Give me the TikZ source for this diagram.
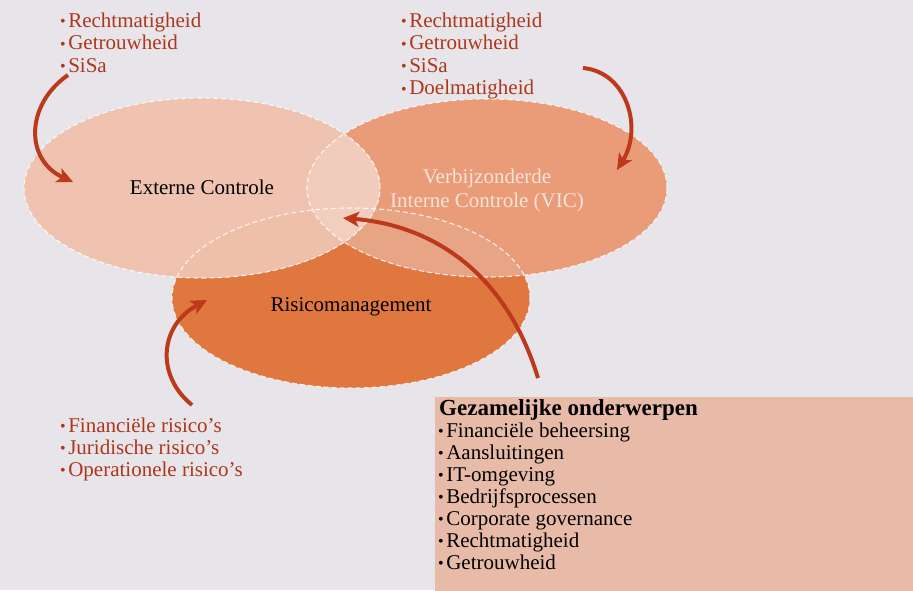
\documentclass[tikz,border=0pt]{standalone}
\usepackage{fontspec}
\setmainfont{Liberation Serif}
\usetikzlibrary{shapes.geometric, arrows.meta, calc}

\definecolor{bgcol}{HTML}{E7E5EA}
\definecolor{ecfill}{HTML}{EFC3AF}
\definecolor{vicfill}{HTML}{EA9C78}
\definecolor{risfill}{HTML}{E0773F}
\definecolor{ecvic}{HTML}{F1CCBC}
\definecolor{ecris}{HTML}{EFC0A9}
\definecolor{vicris}{HTML}{E8A585}
\definecolor{allthree}{HTML}{F2CEBF}
\definecolor{boxfill}{HTML}{E8BBA9}
\definecolor{listred}{HTML}{AE361B}
\definecolor{arrowred}{HTML}{BC391B}
\definecolor{victext}{HTML}{F6E4DA}

\newcommand{\itm}{\raisebox{0.5pt}{\fontsize{16}{16}\selectfont\textbullet}\hspace{2.5pt}}

\tikzset{
    lbl/.style={inner sep=0pt, font=\fontsize{21}{24}\selectfont},
    itemred/.style={lbl, anchor=base west, text=listred},
    itemblack/.style={lbl, anchor=base west, text=black},
    setshape/.style={ellipse, draw=white, draw opacity=0.8, dash pattern=on 5pt off 3pt, line width=1.1pt, inner sep=0pt},
    flow/.style={->, line width=4pt, draw=arrowred},
}

\begin{document}
\begin{tikzpicture}[x=1pt, y=-1pt, >={Stealth[length=16pt, width=15pt, inset=4pt]}]

        % ====================
        % 0. Background
        % ====================
        \fill[bgcol] (0,0) rectangle (913,590);
        \useasboundingbox (0,0) rectangle (913,590);

        % ====================
        % 1. The three sets
        % ====================
        \fill[risfill] (351,298) ellipse [x radius=179pt, y radius=90pt];
        \fill[vicfill] (487,188) ellipse [x radius=180pt, y radius=89pt];
        \fill[ecfill]  (202,188) ellipse [x radius=178pt, y radius=90pt];

        % overlaps with Risicomanagement
        \begin{scope}
            \clip (351,298) ellipse [x radius=179pt, y radius=90pt];
            \fill[ecris]  (202,188) ellipse [x radius=178pt, y radius=90pt];
            \fill[vicris] (487,188) ellipse [x radius=180pt, y radius=89pt];
        \end{scope}
        % overlap Externe Controle / VIC, and the middle
        \begin{scope}
            \clip (202,188) ellipse [x radius=178pt, y radius=90pt];
            \fill[ecvic] (487,188) ellipse [x radius=180pt, y radius=89pt];
            \clip (351,298) ellipse [x radius=179pt, y radius=90pt];
            \fill[allthree] (487,188) ellipse [x radius=180pt, y radius=89pt];
        \end{scope}

        % dashed outlines
        \node[setshape, minimum width=356pt, minimum height=180pt] (ec)  at (202,188) {};
        \node[setshape, minimum width=360pt, minimum height=178pt] (vic) at (487,188) {};
        \node[setshape, minimum width=358pt, minimum height=180pt] (ris) at (351,298) {};

        \node[lbl] (ecl) at ([yshift=1pt]ec.center) {Externe Controle};
        \node[lbl, text=victext, align=center] (vicl) at ([yshift=-2pt]vic.center)
            {Verbijzonderde\\Interne Controle (VIC)};
        \node[lbl] (risl) at ([yshift=-9pt]ris.center) {Risicomanagement};

        % ====================
        % 2. Lists
        % ====================
        \foreach \t [count=\i] in {Rechtmatigheid, Getrouwheid, SiSa} {
            \node[itemred] (tl\i) at (60, {27+22.5*(\i-1)}) {\itm\t};
        }
        \foreach \t [count=\i] in {Rechtmatigheid, Getrouwheid, SiSa, Doelmatigheid} {
            \node[itemred] (tr\i) at (401, {27+22.5*(\i-1)}) {\itm\t};
        }
        \foreach \t [count=\i] in {Financiële risico’s, Juridische risico’s, Operationele risico’s} {
            \node[itemred] (bl\i) at (60, {432+22*(\i-1)}) {\itm\t};
        }

        % Gezamelijke onderwerpen
        \node[fill=boxfill, anchor=north west, minimum width=480pt, minimum height=196pt,
              inner sep=0pt] (gez) at (435,397) {};
        \node[itemblack, font=\fontsize{23}{24}\selectfont\bfseries] (gz0) at (439,415)
            {Gezamelijke onderwerpen};
        \foreach \t [count=\i] in {Financiële beheersing, Aansluitingen, IT-omgeving,
                Bedrijfsprocessen, Corporate governance, Rechtmatigheid, Getrouwheid} {
            \node[itemblack] (gz\i) at (438, {437+22*(\i-1)}) {\itm\t};
        }

        % ====================
        % 3. Arrows
        % ====================
        \coordinate (a2s) at (583,68);

        \draw[flow] ($(tl3.base west)+(8,3)$) .. controls (25,105) and (25,160) .. ($(ec.center)+(-129,-6)$);
        \draw[flow] (a2s) .. controls (627,72) and (643,128) .. ($(vic.center)+(130,-18)$);
        \draw[flow] ($(gez.north west)+(103,-19)$) .. controls (505,270) and (430,225) .. ($(ec.center)+(141,30)$);
        \draw[flow] ($(bl1.base west)+(132,-27)$) .. controls (155,375) and (160,325) .. ($(ris.center)+(-144,2)$);

    \end{tikzpicture}
\end{document}
